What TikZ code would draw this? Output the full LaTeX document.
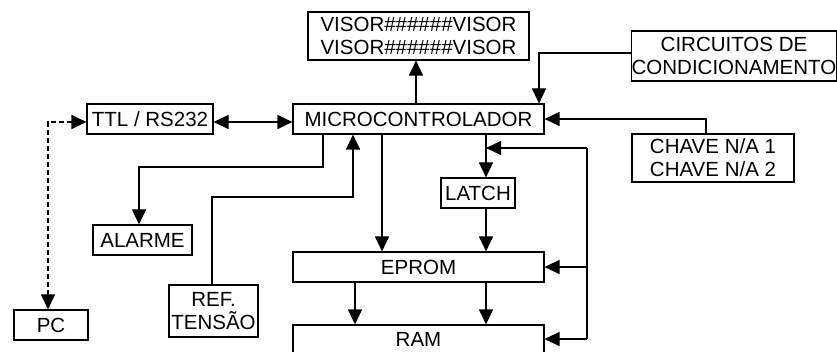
\documentclass[tikz,border=0pt]{standalone}
\usepackage{fontspec}
\setmainfont{Liberation Sans}
\usetikzlibrary{arrows.meta}
\begin{document}
\begin{tikzpicture}[x=1pt,y=-1pt,
  box/.style={draw,line width=1.1pt,inner sep=0pt,align=center,font=\fontsize{20.5}{23.3}\selectfont},
  conn/.style={line width=1.1pt},
  arr/.style={conn,-{Triangle[length=15pt,width=14pt]}},
  darr/.style={conn,{Triangle[length=15pt,width=14pt]}-{Triangle[length=15pt,width=14pt]}}]
\useasboundingbox (0,0) rectangle (837,352);
\node[box,minimum width=221pt,minimum height=48pt] (visor) at (418.5,36) {VISOR\#\#\#\#\#\#VISOR\\VISOR\#\#\#\#\#\#VISOR};
\node[box,minimum width=251pt,minimum height=30pt] (micro) at (418.5,119) {MICROCONTROLADOR};
\node[box,minimum width=126pt,minimum height=30pt] (ttl) at (150,119) {TTL / RS232};
\node[box,minimum width=99pt,minimum height=30pt] (alarme) at (142.5,240) {ALARME};
\node[box,minimum width=74pt,minimum height=30pt] (pc) at (51,325) {PC};
\node[box,minimum width=89pt,minimum height=52pt] (ref) at (213.5,311) {REF.\\TENSÃO};
\node[box,minimum width=251pt,minimum height=30pt] (eprom) at (418.5,267) {EPROM};
\node[box,minimum width=251pt,minimum height=28pt] (ram) at (418.5,339) {RAM};
\node[box,minimum width=74pt,minimum height=30pt] (latch) at (478,193) {LATCH};
\node[box,minimum width=204pt,minimum height=50pt] (circ) at (734,56) {CIRCUITOS DE\\CONDICIONAMENTO};
\node[box,minimum width=162pt,minimum height=48pt] (chave) at (713,158) {CHAVE N/A 1\\CHAVE N/A 2};
% helper coordinates
\coordinate (xv) at (416,0);
\coordinate (kc) at (539,53);
\coordinate (xch) at (706,0);
\coordinate (yt) at (0,122);
\coordinate (xpc) at (48,0);
\coordinate (xal) at (323,167);
\coordinate (ka) at (139,167);
\coordinate (kr) at (212,197);
\coordinate (kr2) at (353,197);
\coordinate (xe) at (382,0);
\coordinate (xl) at (486,0);
\coordinate (bt) at (587,148);
\coordinate (bj) at (486,148);
\coordinate (xer) at (355,0);
% connectors
\draw[arr] (micro.north -| xv) -- (visor.south -| xv);
\draw[arr] (circ.west |- kc) -- (kc) -- (micro.north -| kc);
\draw[arr] (chave.north -| xch) |- (micro.east);
\draw[darr] (ttl.east |- yt) -- (micro.west |- yt);
\draw[darr,dash pattern=on 5pt off 3pt] (pc.north -| xpc) |- (ttl.west |- yt);
\draw[arr] (micro.south -| xal) -- (xal) -- (ka) -- (alarme.north -| ka);
\draw[arr] (ref.north -| kr) -- (kr) -- (kr2) -- (micro.south -| kr2);
\draw[arr] (micro.south -| xe) -- (eprom.north -| xe);
\draw[arr] (micro.south -| xl) -- (latch.north -| xl);
\draw[arr] (latch.south -| xl) -- (eprom.north -| xl);
\draw[conn] (bt) -- (ram.east -| bt);
\draw[arr] (bt) -- (bj);
\draw[arr] (eprom.east -| bt) -- (eprom.east);
\draw[arr] (ram.east -| bt) -- (ram.east);
\draw[arr] (eprom.south -| xer) -- (ram.north -| xer);
\draw[arr] (eprom.south -| xl) -- (ram.north -| xl);
\end{tikzpicture}
\end{document}
